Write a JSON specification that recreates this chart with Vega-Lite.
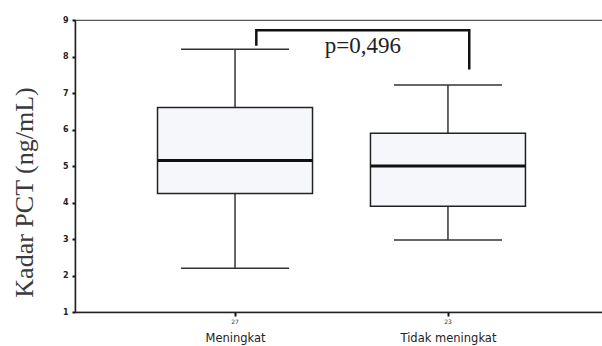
{
  "$schema": "https://vega.github.io/schema/vega-lite/v6.json",
  "width": 530,
  "height": 292,
  "autosize": {"type": "none"},
  "padding": {"left": 75, "top": 20, "right": 0, "bottom": 34},
  "background": "white",
  "config": {
    "view": {"stroke": "#555", "strokeWidth": 1.2},
    "axisX": {
      "grid": false,
      "labelFont": "DejaVu Sans",
      "labelFontSize": 11.5,
      "labelColor": "#222",
      "labelPadding": 16,
      "labelOverlap": false,
      "labelFlush": false,
      "tickSize": 4,
      "tickColor": "#111",
      "tickWidth": 2,
      "domainColor": "#222",
      "domainWidth": 1.5
    }
  },
  "datasets": {
    "boxes": [
      {"group": 1, "label": "Meningkat", "n": "27", "lower": 2.2, "q1": 4.25, "median": 5.15, "q3": 6.6, "upper": 8.2},
      {"group": 2, "label": "Tidak meningkat", "n": "23", "lower": 2.97, "q1": 3.9, "median": 5.0, "q3": 5.9, "upper": 7.22}
    ],
    "bracket": [
      {"order": 1, "x": 1.1, "y": 8.33},
      {"order": 2, "x": 1.1, "y": 8.72},
      {"order": 3, "x": 2.1, "y": 8.72},
      {"order": 4, "x": 2.1, "y": 7.68}
    ],
    "pval": [{"x": 1.6, "y": 8.1, "text": "p=0,496"}]
  },
  "encoding": {
    "x": {
      "field": "group",
      "type": "quantitative",
      "scale": {"domain": [0.272, 2.714], "nice": false, "zero": false},
      "axis": {
        "values": [1, 2],
        "title": null,
        "labelExpr": "datum.value == 1 ? 'Meningkat' : 'Tidak meningkat'"
      }
    }
  },
  "layer": [
    {
      "data": {"name": "boxes"},
      "mark": {"type": "rule", "color": "#333", "strokeWidth": 1.5},
      "encoding": {
        "y": {
          "field": "lower",
          "type": "quantitative",
          "scale": {"domain": [1, 9], "nice": false, "zero": false},
          "axis": {
            "values": [1, 2, 3, 4, 5, 6, 7, 8, 9],
            "tickCount": 20,
            "format": "d",
            "labelOverlap": false,
            "labelFlush": false,
            "grid": false,
            "labelFont": "DejaVu Sans",
            "labelFontSize": 8,
            "labelFontWeight": "bold",
            "labelColor": "#222",
            "labelPadding": 4,
            "tickSize": 3,
            "tickWidth": 2,
            "tickColor": "#111",
            "domainColor": "#222",
            "domainWidth": 1.5,
            "title": "Kadar PCT (ng/mL)",
            "titleFont": "Liberation Serif",
            "titleFontSize": 26,
            "titleFontWeight": "normal",
            "titleColor": "#3a3a3a",
            "titleX": -51,
            "titleY": 172,
            "titleAlign": "center",
            "titleBaseline": "middle",
            "titleAngle": 270
          }
        },
        "y2": {"field": "upper"}
      }
    },
    {
      "data": {"name": "boxes"},
      "mark": {"type": "bar", "orient": "vertical", "size": 155, "fill": "#f6f7fb", "stroke": "#222", "strokeWidth": 1.5},
      "encoding": {
        "y": {"field": "q1", "type": "quantitative", "axis": {"values": [1, 2, 3, 4, 5, 6, 7, 8, 9], "tickCount": 20, "format": "d", "labelOverlap": false, "title": "Kadar PCT (ng/mL)"}},
        "y2": {"field": "q3"}
      }
    },
    {
      "data": {"name": "boxes"},
      "mark": {"type": "tick", "orient": "horizontal", "size": 155, "thickness": 3, "color": "#111", "opacity": 1},
      "encoding": {"y": {"field": "median", "type": "quantitative", "axis": {"values": [1, 2, 3, 4, 5, 6, 7, 8, 9], "tickCount": 20, "format": "d", "labelOverlap": false, "title": "Kadar PCT (ng/mL)"}}}
    },
    {
      "data": {"name": "boxes"},
      "mark": {"type": "tick", "orient": "horizontal", "size": 108, "thickness": 1.5, "color": "#333", "opacity": 1},
      "encoding": {"y": {"field": "lower", "type": "quantitative", "axis": {"values": [1, 2, 3, 4, 5, 6, 7, 8, 9], "tickCount": 20, "format": "d", "labelOverlap": false, "title": "Kadar PCT (ng/mL)"}}}
    },
    {
      "data": {"name": "boxes"},
      "mark": {"type": "tick", "orient": "horizontal", "size": 108, "thickness": 1.5, "color": "#333", "opacity": 1},
      "encoding": {"y": {"field": "upper", "type": "quantitative", "axis": {"values": [1, 2, 3, 4, 5, 6, 7, 8, 9], "tickCount": 20, "format": "d", "labelOverlap": false, "title": "Kadar PCT (ng/mL)"}}}
    },
    {
      "data": {"name": "boxes"},
      "mark": {"type": "text", "font": "DejaVu Sans", "fontSize": 6, "color": "#333", "dy": 10},
      "encoding": {"y": {"datum": 1, "type": "quantitative", "axis": {"values": [1, 2, 3, 4, 5, 6, 7, 8, 9], "tickCount": 20, "format": "d", "labelOverlap": false, "title": "Kadar PCT (ng/mL)"}}, "text": {"field": "n"}}
    },
    {
      "data": {"name": "bracket"},
      "mark": {"type": "line", "color": "#111", "strokeWidth": 2.5, "strokeCap": "square"},
      "encoding": {
        "x": {"field": "x", "type": "quantitative"},
        "y": {"field": "y", "type": "quantitative", "axis": {"values": [1, 2, 3, 4, 5, 6, 7, 8, 9], "tickCount": 20, "format": "d", "labelOverlap": false, "title": "Kadar PCT (ng/mL)"}},
        "order": {"field": "order"}
      }
    },
    {
      "data": {"name": "pval"},
      "mark": {"type": "text", "font": "Liberation Serif", "fontSize": 23, "color": "#222", "baseline": "alphabetic"},
      "encoding": {
        "x": {"field": "x", "type": "quantitative"},
        "y": {"field": "y", "type": "quantitative", "axis": {"values": [1, 2, 3, 4, 5, 6, 7, 8, 9], "tickCount": 20, "format": "d", "labelOverlap": false, "title": "Kadar PCT (ng/mL)"}},
        "text": {"field": "text"}
      }
    }
  ]
}
